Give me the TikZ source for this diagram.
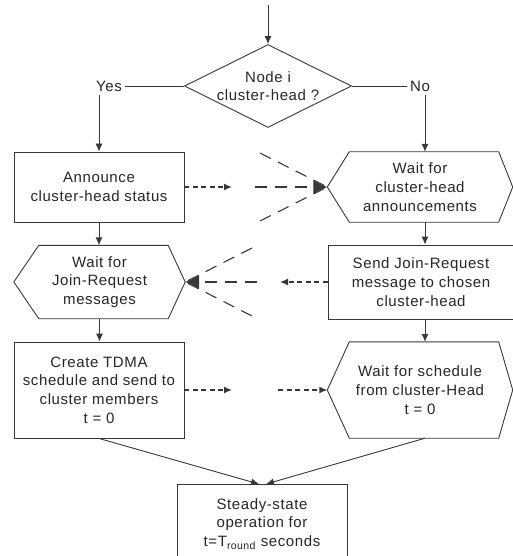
\documentclass[tikz,border=0pt]{standalone}
\usepackage{fontspec}
\setmainfont[LetterSpace=4.0]{Liberation Sans}
\usepackage{tikz}
\usetikzlibrary{arrows.meta,shapes.geometric}
\definecolor{inkgray}{gray}{0.22}

% six-sided frame round a node: #2 and #3 are the left and right insets
\newcommand{\hexframe}[3]{\draw[flowline] (#1.west) -- ([xshift=#2]#1.north west) -- ([xshift=-#3]#1.north east) -- (#1.east) -- ([xshift=-#3]#1.south east) -- ([xshift=#2]#1.south west) -- cycle;}

\begin{document}
\begin{tikzpicture}[x=1pt,y=1pt,yscale=-1,xscale=1,
    every node/.style={font=\fontsize{15}{18.7}\selectfont, text=black!85, align=center},
    flowline/.style={draw=inkgray, line width=0.9pt},
    step arrow/.style={flowline, -{Latex[length=8pt,width=7pt]}},
    procbox/.style={draw=inkgray, line width=0.9pt, rectangle, inner sep=2pt},
    waitbox/.style={rectangle, inner sep=2pt},
    decision/.style={draw=inkgray, line width=0.9pt, diamond, aspect=2, inner sep=0pt, minimum width=167pt, minimum height=83pt},
    dasharrow/.style={draw=inkgray, line width=1.2pt, dash pattern={on 5pt off 3.5pt}, -{Latex[length=8pt,width=7pt]}},
    fanline/.style={draw=inkgray, line width=1.1pt, dash pattern={on 12pt off 8pt}},
    fanhead/.style={fanline, -{Latex[length=14pt,width=14pt]}}]
    \useasboundingbox (0,0) rectangle (513,556);

    % decision
    \coordinate (start) at (268,5);
    \node[decision] (head) at (268,86) {Node i\\cluster-head ?};
    \node (yes) at (109,86) {Yes};
    \node (no) at (420,86) {No};

    % left column
    \node[procbox, minimum width=170pt, minimum height=70pt] (ann) at (99,187) {Announce\\cluster-head status};
    \node[waitbox, minimum width=171pt, minimum height=73pt] (wjr) at (99.5,282) {Wait for\\Join-Request\\messages};
    \node[procbox, minimum width=170pt, minimum height=96pt] (tdma) at (99,390) {Create TDMA\\schedule and send to\\cluster members\\t = 0};

    % right column
    \node[waitbox, minimum width=185pt, minimum height=70pt] (wca) at (420,187) {Wait for\\cluster-head\\announcements};
    \node[procbox, minimum width=186pt, minimum height=74pt] (sjr) at (421,282) {Send Join-Request\\message to chosen\\cluster-head};
    \node[waitbox, minimum width=185pt, minimum height=96pt] (wsch) at (420,390) {Wait for schedule\\from cluster-Head\\t = 0};

    % steady state
    \node[procbox, minimum width=170pt, minimum height=76pt, text depth=0pt] (steady) at (262,522.5) {Steady-state\\operation for\\t=T\textsubscript{round} seconds};

    \hexframe{wca}{22pt}{14pt}
    \hexframe{wjr}{25pt}{17pt}
    \hexframe{wsch}{22pt}{14pt}

    % solid connectors
    \draw[step arrow] (start) -- (head.north);
    \draw[flowline] (head.west) -- (yes.east);
    \draw[flowline] (head.east) -- (no.west);
    \draw[step arrow] (ann.north |- yes.south) -- (ann.north);
    \draw[step arrow] ([xshift=5pt]wca.north |- no.south) -- ([xshift=5pt]wca.north);
    \draw[step arrow] (ann.south) -- (ann.south |- wjr.north);
    \draw[step arrow] (wjr.south) -- (wjr.south |- tdma.north);
    \draw[step arrow] ([xshift=5pt]wca.south) -- ([xshift=5pt]wca.south |- sjr.north);
    \draw[step arrow] ([xshift=4pt]sjr.south) -- ([xshift=4pt]sjr.south |- wsch.north);
    \draw[step arrow] (tdma.south) -- ([xshift=-3pt]steady.north);
    \draw[step arrow] ([xshift=5pt]wsch.south) -- ([xshift=4pt]steady.north);

    % dashed messages, first round
    \coordinate (a1) at (232,187);
    \draw[dasharrow] (ann.east) -- (a1);
    \coordinate (f1a) at (260,153);
    \coordinate (f1b) at (255,187);
    \coordinate (f1c) at (260,221);
    \draw[fanline] (f1a) -- (wca.west);
    \draw[fanline] (f1c) -- (wca.west);
    \draw[fanhead] (f1b) -- (wca.west);

    % dashed messages, join requests
    \coordinate (a2) at (280,282);
    \draw[dasharrow] (sjr.west) -- (a2);
    \coordinate (f2a) at (252,248);
    \coordinate (f2b) at (257,282);
    \coordinate (f2c) at (252,316);
    \draw[fanline] (f2a) -- (wjr.east);
    \draw[fanline] (f2c) -- (wjr.east);
    \draw[fanhead] (f2b) -- (wjr.east);

    % dashed messages, schedule
    \coordinate (a3) at (232,390);
    \coordinate (a4) at (278,390);
    \draw[dasharrow] (tdma.east) -- (a3);
    \draw[dasharrow] (a4) -- (wsch.west);
\end{tikzpicture}
\end{document}
